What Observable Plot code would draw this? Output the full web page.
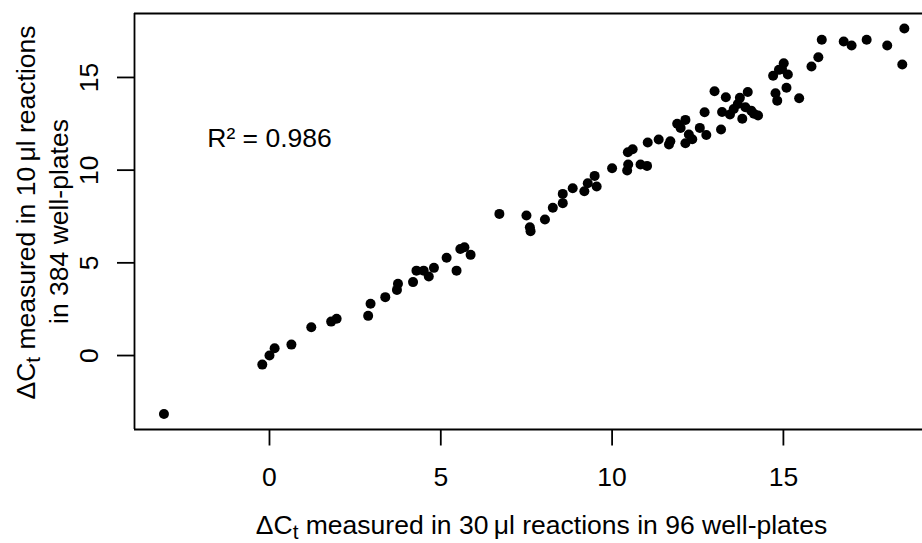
<!DOCTYPE html>
<html><head><meta charset="utf-8">
<script src="https://cdn.jsdelivr.net/npm/d3@7"></script>
<script src="https://cdn.jsdelivr.net/npm/@observablehq/plot@0.6"></script>
<style>body{margin:0;background:#fff} svg{display:block}</style>
</head><body><div id="chart"></div>
<script>
// ΔCt in 30 µl reactions (96 well-plates)
const xValues = [-3.08,-0.21,0.00,0.15,0.64,1.22,1.80,1.96,2.88,2.95,3.38,3.72,3.75,4.19,4.29,4.50,4.65,4.80,5.17,5.46,5.57,5.69,5.87,6.71,
  7.50,7.60,7.62,8.04,8.27,8.56,8.56,8.85,9.19,9.29,9.49,9.55,10.00,10.44,10.47,10.46,10.60,10.83,11.02,11.04,11.36,11.66,11.70,11.90,12.14,12.00,12.24,12.34,12.14,12.56,12.70,12.75,12.99,13.18,13.21,13.32,13.44,13.55,13.67,13.73,13.80,13.89,13.96,14.06,14.14,14.26,14.70,14.77,14.82,14.87,15.01,14.96,15.13,15.09,15.46,15.82,16.02,16.12,16.76,16.99,17.43,18.03,18.47,18.53];
// ΔCt in 10 µl reactions (384 well-plates)
const yValues = [-3.15,-0.49,0.00,0.39,0.59,1.53,1.83,1.98,2.14,2.79,3.15,3.54,3.87,3.96,4.58,4.58,4.26,4.73,5.27,4.58,5.75,5.84,5.43,7.64,
  7.55,6.92,6.71,7.34,7.97,8.22,8.72,9.02,8.86,9.29,9.69,9.12,10.10,9.98,10.30,10.97,11.13,10.30,10.23,11.49,11.65,11.38,11.56,12.50,12.71,12.28,11.92,11.67,11.45,12.28,13.12,11.90,14.26,12.19,13.14,13.93,13.00,13.30,13.57,13.90,12.77,13.39,14.22,13.21,13.04,12.95,15.09,14.15,13.75,15.41,15.77,15.46,15.16,14.44,13.88,15.59,16.09,17.03,16.94,16.72,17.03,16.72,15.70,17.64];
const xTicks = [0, 5, 10, 15];
const yTicks = [0, 5, 10, 15];
const xTitle = "ΔC_t measured in 30\u2009μl reactions in 96 well-plates";
const yTitle1 = "ΔC_t measured in 10\u2009μl reactions";
const yTitle2 = "in 384 well-plates";
const r2Label = [{x: 0, y: 12, text: "R² = 0.986"}];

const data = xValues.map((x, i) => ({x, y: yValues[i]}));
const xDomain = [-3.94, 19.06];
const yDomain = [-3.99, 18.45];
const font = "'Liberation Sans', Arial, Helvetica, sans-serif";
const fs = 26.5;

const chart = Plot.plot({
  width: 922, height: 543,
  marginLeft: 134, marginRight: 0, marginTop: 13, marginBottom: 114,
  style: {fontFamily: font, fontSize: fs + "px", background: "white", color: "black", overflow: "visible"},
  x: {domain: xDomain},
  y: {domain: yDomain},
  marks: [
    Plot.ruleX([xDomain[0]], {stroke: "black", strokeWidth: 1.8}),
    Plot.ruleY(yDomain, {stroke: "black", strokeWidth: 1.8}),
    Plot.axisX({ticks: xTicks, tickSize: 16.5, tickPadding: 21.5, tickFormat: d => String(d), label: null, fontSize: fs, strokeWidth: 1.8, anchor: "bottom"}),
    Plot.axisY({ticks: yTicks, tickSize: 17, tickFormat: () => "", label: null, strokeWidth: 1.8, anchor: "left"}),
    Plot.text(yTicks, {frameAnchor: "left", y: d => d, text: d => String(d), rotate: -90, dx: -37, lineAnchor: "bottom", textAnchor: "middle", fontSize: fs, fill: "black"}),
    Plot.text([yTitle1], {frameAnchor: "left", text: d => d, rotate: -90, dx: -100, dy: -9, lineAnchor: "bottom", textAnchor: "middle", fontSize: fs, fill: "black"}),
    Plot.text([yTitle2], {frameAnchor: "left", text: d => d, rotate: -90, dx: -67, dy: 0, lineAnchor: "bottom", textAnchor: "middle", fontSize: fs, fill: "black"}),
    Plot.text([xTitle], {frameAnchor: "bottom", text: d => d, dx: 13, dy: 104, lineAnchor: "bottom", textAnchor: "middle", fontSize: fs, fill: "black"}),
    Plot.text(r2Label, {x: "x", y: "y", text: "text", dy: 14, lineAnchor: "bottom", textAnchor: "middle", fontSize: fs, fill: "black"}),
    Plot.dot(data, {x: "x", y: "y", r: 5, fill: "black", stroke: "none"})
  ]
});

d3.select(chart).selectAll("text").each(function() {
  const t = this.textContent;
  if (t.includes("ΔC_t")) {
    const rest = t.split("ΔC_t")[1];
    const sel = d3.select(this);
    sel.text(null);
    sel.append("tspan").text("ΔC");
    sel.append("tspan").attr("dy", "5.5px").attr("font-size", "0.78em").text("t");
    sel.append("tspan").attr("dy", "-5.5px").text(rest);
  }
});

document.getElementById("chart").appendChild(chart);
</script>
</body></html>
